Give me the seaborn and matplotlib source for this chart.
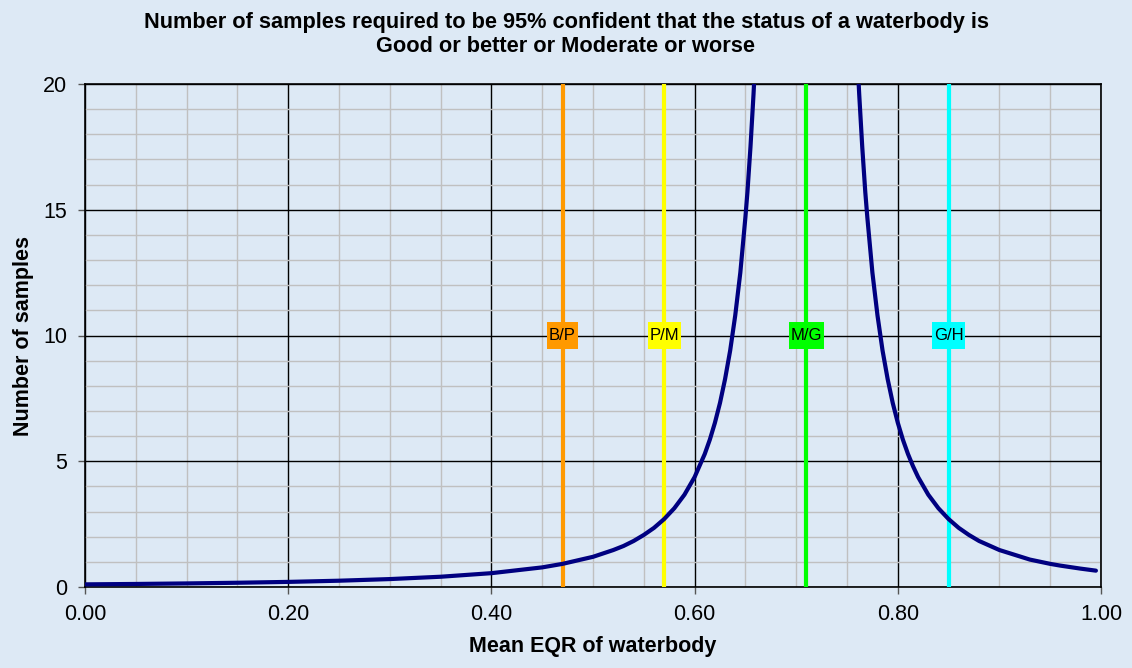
import matplotlib
matplotlib.use("Agg")
import matplotlib.pyplot as plt
import seaborn as sns
import pandas as pd
from matplotlib.path import Path
from matplotlib.ticker import MultipleLocator, FormatStrFormatter

# Data
left_x = [0.00, 0.05, 0.10, 0.15, 0.20, 0.25, 0.30, 0.35, 0.40, 0.45, 0.47, 0.50,
          0.52, 0.53, 0.54, 0.55, 0.56, 0.57, 0.58, 0.59, 0.60, 0.61, 0.615, 0.62,
          0.625, 0.63, 0.635, 0.64, 0.645, 0.65, 0.652, 0.655, 0.658, 0.66]
left_y = [0.105, 0.121, 0.142, 0.169, 0.203, 0.25, 0.315, 0.408, 0.55, 0.78, 0.92, 1.20,
          1.47, 1.63, 1.83, 2.07, 2.35, 2.70, 3.13, 3.67, 4.37, 5.29, 5.86, 6.53,
          7.32, 8.27, 9.4, 10.8, 12.5, 14.7, 15.7, 17.5, 19.6, 21.2]
right_x = [0.76, 0.762, 0.765, 0.768, 0.77, 0.775, 0.78, 0.785, 0.79, 0.795, 0.80, 0.805,
           0.81, 0.815, 0.82, 0.83, 0.84, 0.85, 0.86, 0.87, 0.88, 0.90, 0.93, 0.95,
           0.96, 0.98, 0.995]
right_y = [21.2, 19.6, 17.5, 15.7, 14.7, 12.5, 10.8, 9.4, 8.27, 7.32, 6.53, 5.86,
           5.29, 4.80, 4.37, 3.67, 3.13, 2.70, 2.35, 2.07, 1.83, 1.47, 1.09, 0.92,
           0.85, 0.73, 0.65]

boundary_labels = ["B/P", "P/M", "M/G", "G/H"]
boundary_x = [0.47, 0.57, 0.71, 0.85]
boundary_colors = ["#FF9900", "#FFFF00", "#00FF00", "#00FFFF"]
label_y = 10

title = ("Number of samples required to be 95% confident that the status of a waterbody is\n"
         "Good or better or Moderate or worse")
xlabel = "Mean EQR of waterbody"
ylabel = "Number of samples"

sns.set_style("white")
plt.rcParams['font.family'] = ['Liberation Sans', 'DejaVu Sans']
plt.rcParams['text.color'] = 'black'
plt.rcParams['axes.labelcolor'] = 'black'
plt.rcParams['xtick.color'] = 'black'
plt.rcParams['ytick.color'] = 'black'


def label_box(x0, y0, width, height, mutation_size, padx=0.1, pady=0.36):
    px = padx * mutation_size
    py = pady * mutation_size
    verts = [(x0 - px, y0 - py), (x0 + width + px, y0 - py),
             (x0 + width + px, y0 + height + py), (x0 - px, y0 + height + py),
             (x0 - px, y0 - py)]
    return Path(verts, closed=True)


bg = "#DDE9F5"
fig = plt.figure(figsize=(11.32, 6.68), dpi=100, facecolor=bg)
ax = fig.add_axes([85/1132, 1-587/668, (1101-85)/1132, (587-84)/668])
ax.set_facecolor(bg)

ax.set_xlim(0, 1)
ax.set_ylim(0, 20)
ax.xaxis.set_major_locator(MultipleLocator(0.2))
ax.xaxis.set_minor_locator(MultipleLocator(0.05))
ax.yaxis.set_major_locator(MultipleLocator(5))
ax.yaxis.set_minor_locator(MultipleLocator(1))
ax.xaxis.set_major_formatter(FormatStrFormatter("%.2f"))
ax.grid(which="minor", color="#C0C0C0", linewidth=1.0)
ax.grid(which="major", color="black", linewidth=1.0)
ax.set_axisbelow(True)

for bx, bc in zip(boundary_x, boundary_colors):
    ax.axvline(bx, color=bc, linewidth=3.0, zorder=3)

dl = pd.DataFrame({"x": left_x, "y": left_y})
dr = pd.DataFrame({"x": right_x, "y": right_y})
sns.lineplot(data=dl, x="x", y="y", ax=ax, color="#000080", linewidth=3.0, zorder=4)
sns.lineplot(data=dr, x="x", y="y", ax=ax, color="#000080", linewidth=3.0, zorder=4)

for bx, bc, bl in zip(boundary_x, boundary_colors, boundary_labels):
    ax.text(bx, label_y, bl, ha="center", va="center", fontsize=12, color="black", zorder=5,
            bbox=dict(boxstyle=label_box, facecolor=bc, edgecolor="none"))

for s in ax.spines.values():
    s.set_color("black")
    s.set_linewidth(1.2)

ax.tick_params(axis="both", which="major", direction="out", length=5, width=1,
               color="#555555", labelcolor="black", labelsize=15.5, pad=7,
               left=True, bottom=True)
ax.tick_params(axis="y", which="major", pad=8)
ax.tick_params(axis="both", which="minor", length=0)

ax.set_xlabel(xlabel, fontsize=15.5, fontweight="bold", labelpad=8, color="black")
ax.set_ylabel(ylabel, fontsize=15.5, fontweight="bold", color="black")
ax.yaxis.set_label_coords(-0.050, 0.5)
fig.text(0.5, 0.948, title, ha="center", va="center", fontsize=15.7, fontweight="bold",
         linespacing=1.2, color="black")

fig.savefig("out.png", dpi=100, facecolor=bg)
